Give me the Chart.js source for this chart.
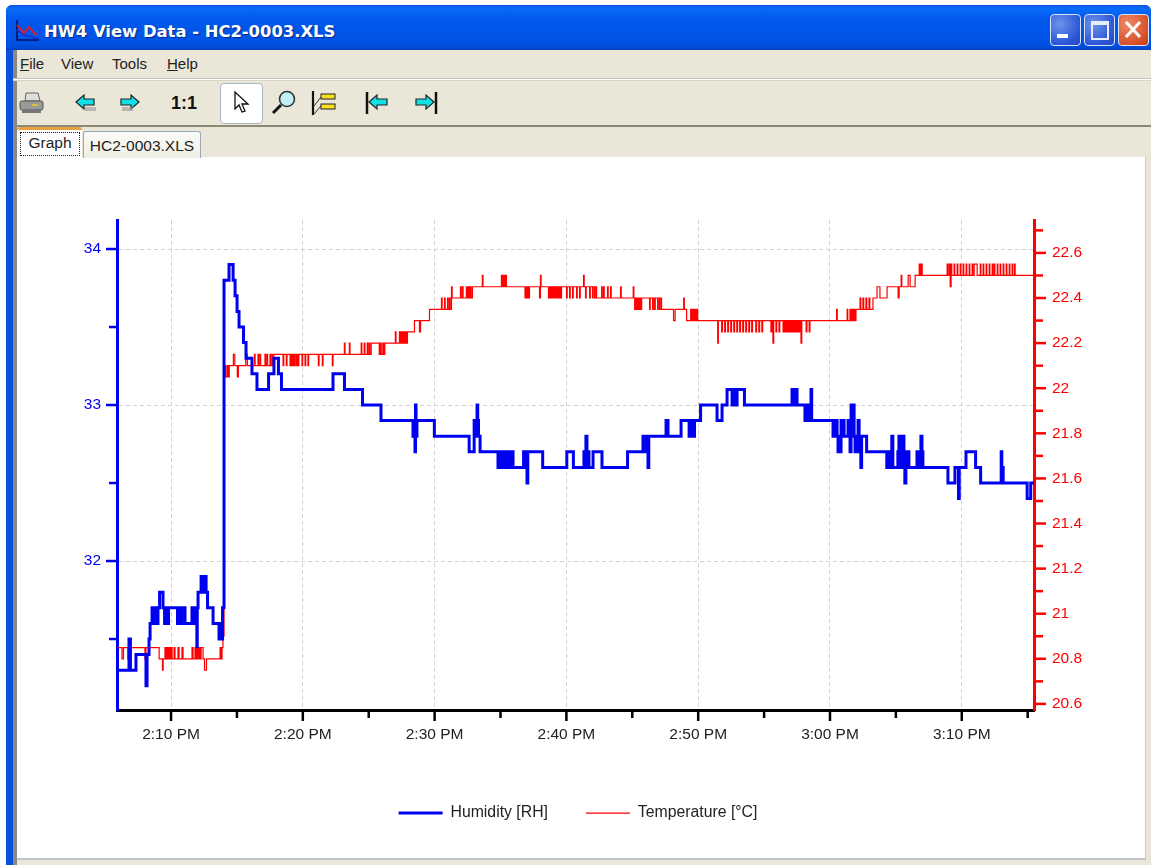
<!DOCTYPE html>
<html>
<head>
<meta charset="utf-8">
<title>HW4 View Data</title>
<script src="https://cdn.jsdelivr.net/npm/chart.js@4"></script>
<style>
  html, body { margin: 0; padding: 0; background: #fff; }
  body { width: 1151px; height: 865px; overflow: hidden; position: relative; font-family: "Liberation Sans", Arial, sans-serif; }
  .abs { position: absolute; }
  #win { left: 6px; top: 5px; width: 1145px; height: 860px; background: #0a50dc; border-radius: 6px 6px 0 0; }
  #titlebar { left: 6px; top: 5px; width: 1145px; height: 45px; border-radius: 6px 6px 0 0;
    background: linear-gradient(#0a55e0 0, #0a6cf8 8%, #0058ec 30%, #0055e8 70%, #0050e0 90%, #0040c0 100%); }
  #title { left: 44px; top: 22px; color: #fff; font: bold 16.4px "DejaVu Sans", sans-serif; text-shadow: 1px 1px 1px #0a2a90; white-space: nowrap; }
  .wbtn { top: 14px; width: 29px; height: 30px; border: 1px solid #d8e4fa; border-radius: 4px; background: radial-gradient(circle at 30% 30%, #6f92ea, #2a55d8 70%, #2448c0); }
  #close { background: radial-gradient(circle at 30% 30%, #ee8a66, #d8502a 70%, #c03c18); }
  #face { left: 13px; top: 50px; width: 1138px; height: 815px; background: #ebe7d8; }
  #edge { left: 13px; top: 50px; width: 4px; height: 815px; background: #8a8a84; }
  #menusep { left: 13px; top: 78px; width: 1138px; height: 3px; background: linear-gradient(#c4c2b4 0, #c4c2b4 33%, #fff 34%, #fff 66%, #d8d5c5 67%); }
  #toolsep { left: 13px; top: 125px; width: 1138px; height: 2px; background: #8b8975; }
  .menu { top: 55px; font-size: 15px; color: #222; }
  .under { text-decoration: underline; }
  #pressed { left: 220px; top: 83px; width: 41px; height: 39px; background: #fff; border: 1.5px solid #a9b6c4; border-radius: 4px; }
  #oneone { left: 171px; top: 93px; font: bold 18px "Liberation Sans", sans-serif; color: #111; }
  #panel { left: 17px; top: 157px; width: 1128px; height: 701px; background: #fff; border-right: 1.5px solid #c5cbd4; border-bottom: 2px solid #bfc4cc; box-sizing: content-box; }
  #tab1 { left: 17px; top: 127px; width: 65px; height: 31px; background: #fff; border-top: 3px solid #eba23c; border-radius: 3px 3px 0 0; box-sizing: border-box; }
  #tab1in { left: 20px; top: 132px; width: 58px; height: 22px; border: 1px dotted #222; font-size: 15.5px; line-height: 20px; text-align: center; color: #222; }
  #tab2 { left: 83px; top: 131px; width: 116px; height: 26px; background: linear-gradient(#fcfcf8, #efeee4); border: 1px solid #9aa9b8; border-bottom: none; border-radius: 3px 3px 0 0; font-size: 15.5px; line-height: 27px; text-align: center; color: #222; white-space: nowrap; }
  #chartbox { left: 17px; top: 158px; width: 1128px; height: 700px; }
  #chart { display: block; }
  svg { position: absolute; overflow: visible; }
</style>
</head>
<body>
<div class="abs" id="win"></div>
<div class="abs" id="titlebar"></div>
<svg style="left:15px;top:20px" width="26" height="22">
  <path d="M2 0V20H24" stroke="#001060" stroke-width="1.6" fill="none"/>
  <path d="M2 5L9 13L14 7L19 13L23 15" stroke="#f01818" stroke-width="1.8" fill="none"/>
  <path d="M2 10L9 15L14 16L20 18L24 18" stroke="#1030d0" stroke-width="1.4" fill="none"/>
</svg>
<div class="abs" id="title">HW4 View Data - HC2-0003.XLS</div>
<div class="abs wbtn" style="left:1050px"></div>
<div class="abs" style="left:1057px;top:34px;width:11px;height:4px;background:#fff"></div>
<div class="abs wbtn" style="left:1084px"></div>
<div class="abs" style="left:1091px;top:21px;width:14px;height:13px;border:2px solid #e8eefc;border-top-width:4px"></div>
<div class="abs wbtn" id="close" style="left:1118px"></div>
<svg style="left:1118px;top:14px" width="30" height="31"><path d="M8 8L22 23M22 8L8 23" stroke="#fff" stroke-width="3"/></svg>

<div class="abs" id="face"></div>
<div class="abs" id="edge"></div>
<div class="abs" id="menusep"></div>
<div class="abs" id="toolsep"></div>
<div class="abs menu" style="left:20px"><span class="under">F</span>ile</div>
<div class="abs menu" style="left:61px">View</div>
<div class="abs menu" style="left:112px">Tools</div>
<div class="abs menu" style="left:167px"><span class="under">H</span>elp</div>

<svg style="left:19px;top:92px" width="26" height="24">
  <path d="M7 1H19L21 9H6Z" fill="#dfe0dc" stroke="#666"/>
  <rect x="1" y="9" width="23" height="9" rx="2" fill="#9a9a96" stroke="#555"/>
  <rect x="3" y="17" width="19" height="4" fill="#777"/>
  <rect x="13" y="12" width="6" height="2" fill="#d8c040"/>
</svg>
<svg style="left:75px;top:94px" width="24" height="20"><path d="M1 8L9 1V5H19V11H9V15Z" fill="#12e0e8" stroke="#222" stroke-width="1.2"/><path d="M10 13H21V17H10Z" fill="#999" opacity="0.6"/></svg>
<svg style="left:119px;top:94px" width="24" height="20"><path d="M20 8L12 1V5H2V11H12V15Z" fill="#12e0e8" stroke="#222" stroke-width="1.2"/><path d="M3 13H14V17H3Z" fill="#999" opacity="0.6"/></svg>
<div class="abs" id="oneone">1:1</div>
<div class="abs" id="pressed"></div>
<svg style="left:233px;top:91px" width="18" height="24"><path d="M2 1V18L6 14L9 21L12 20L9 13L15 13Z" fill="#fff" stroke="#111" stroke-width="1.3"/></svg>
<svg style="left:270px;top:90px" width="28" height="26">
  <circle cx="17" cy="9" r="7.5" fill="#bff0f6" stroke="#333" stroke-width="1.6"/>
  <path d="M11 15L3 23" stroke="#111" stroke-width="3"/>
</svg>
<svg style="left:311px;top:91px" width="28" height="26">
  <path d="M2 0V24" stroke="#111" stroke-width="2.2"/>
  <path d="M3 23L10 15M3 15L10 6" stroke="#333" stroke-width="1"/>
  <rect x="10" y="3" width="14" height="5" fill="#f6e020" stroke="#222"/>
  <rect x="10" y="13" width="14" height="5" fill="#f6e020" stroke="#222"/>
</svg>
<svg style="left:366px;top:92px" width="24" height="24"><path d="M1 0V22" stroke="#111" stroke-width="2.5"/><path d="M3 10L11 3V7H21V13H11V17Z" fill="#12e0e8" stroke="#222" stroke-width="1.2"/></svg>
<svg style="left:413px;top:92px" width="24" height="24"><path d="M23 0V22" stroke="#111" stroke-width="2.5"/><path d="M21 10L13 3V7H3V13H13V17Z" fill="#12e0e8" stroke="#222" stroke-width="1.2"/></svg>

<div class="abs" id="panel"></div>
<div class="abs" id="tab2">HC2-0003.XLS</div>
<div class="abs" id="tab1"></div>
<div class="abs" id="tab1in">Graph</div>
<div class="abs" id="chartbox"><canvas id="chart" width="1128" height="700"></canvas></div>

<script>
// all times are minutes after 2:00 PM, each reading holds until the next one
const xMin = 5.90;
const xMax = 75.48;
const xTicks = [10, 15, 20, 25, 30, 35, 40, 45, 50, 55, 60, 65, 70, 75];
const xTickLabels = ["2:10 PM", "", "2:20 PM", "", "2:30 PM", "", "2:40 PM", "", "2:50 PM", "", "3:00 PM", "", "3:10 PM", ""];

const humidityTicks = [31.5, 32, 32.5, 33, 33.5, 34];
const humidityTickLabels = ["", "32", "", "33", "", "34"];

const temperatureTicks = [20.6, 20.7, 20.8, 20.9, 21, 21.1, 21.2, 21.3, 21.4, 21.5, 21.6, 21.7, 21.8, 21.9, 22, 22.1, 22.2, 22.3, 22.4, 22.5, 22.6, 22.7];
const temperatureTickLabels = ["20.6", "", "20.8", "", "21", "", "21.2", "", "21.4", "", "21.6", "", "21.8", "", "22", "", "22.2", "", "22.4", "", "22.6", ""];

const humidityReadings = [
  [5.90,31.3],[6.81,31.5],[6.92,31.3],[7.34,31.4],[8.10,31.2],[8.18,31.4],[8.33,31.5],[8.41,31.6],[8.56,31.7],[8.63,31.6],
  [8.71,31.7],[8.79,31.6],[8.86,31.7],[8.94,31.6],[9.01,31.7],[9.13,31.8],[9.39,31.7],[9.51,31.6],[9.62,31.7],[9.70,31.6],
  [9.81,31.7],[10.49,31.6],[10.57,31.7],[10.64,31.6],[10.72,31.7],[10.76,31.6],[10.83,31.7],[11.06,31.6],[11.59,31.7],[11.67,31.6],
  [11.74,31.7],[11.82,31.6],[11.90,31.7],[11.96,31.45],[11.99,31.7],[12.05,31.8],[12.28,31.9],[12.35,31.8],[12.43,31.9],[12.50,31.8],
  [12.58,31.9],[12.66,31.8],[12.77,31.7],[13.19,31.6],[13.64,31.5],[13.72,31.6],[13.79,31.5],[13.91,31.7],[14.02,33.8],[14.40,33.9],
  [14.71,33.8],[14.86,33.7],[15.01,33.6],[15.16,33.5],[15.50,33.4],[15.69,33.3],[16.14,33.2],[16.52,33.1],[17.40,33.2],[17.81,33.3],
  [18.15,33.2],[18.38,33.1],[22.29,33.2],[23.16,33.1],[24.53,33.0],[25.93,32.9],[28.36,32.8],[28.40,32.9],[28.43,32.8],[28.51,32.7],
  [28.55,33.0],[28.59,32.8],[28.66,32.9],[29.98,32.8],[32.62,32.7],[33.00,32.9],[33.07,32.8],[33.15,32.9],[33.22,33.0],[33.27,32.9],
  [33.33,32.8],[33.45,32.7],[34.81,32.6],[34.89,32.7],[34.97,32.6],[35.04,32.7],[35.12,32.6],[35.20,32.7],[35.27,32.6],[35.35,32.7],
  [35.42,32.6],[35.58,32.7],[35.65,32.6],[35.73,32.7],[35.80,32.6],[35.88,32.7],[35.95,32.6],[36.75,32.7],[36.86,32.6],[36.94,32.7],
  [37.01,32.5],[37.07,32.7],[38.20,32.6],[40.03,32.7],[40.53,32.6],[41.33,32.7],[41.40,32.6],[41.48,32.8],[41.56,32.6],[41.63,32.7],
  [41.71,32.6],[42.02,32.7],[42.70,32.6],[44.64,32.7],[45.81,32.8],[46.04,32.7],[46.12,32.8],[46.19,32.6],[46.25,32.8],[47.56,32.9],
  [47.71,32.8],[48.70,32.9],[49.31,32.8],[49.38,32.9],[49.46,32.8],[49.53,32.9],[49.61,32.8],[49.72,32.9],[50.18,33.0],[51.43,32.9],
  [51.81,33.0],[52.19,33.1],[52.57,33.0],[52.64,33.1],[52.72,33.0],[52.79,33.1],[52.87,33.0],[52.95,33.1],[53.51,33.0],[57.12,33.1],
  [57.19,33.0],[57.27,33.1],[57.34,33.0],[57.42,33.1],[57.50,33.0],[58.10,32.9],[58.18,33.0],[58.25,32.9],[58.33,33.0],[58.48,32.9],
  [58.56,33.1],[58.61,32.9],[60.23,32.8],[60.31,32.9],[60.38,32.8],[60.46,32.9],[60.54,32.8],[60.61,32.7],[60.84,32.9],[60.92,32.8],
  [60.99,32.9],[61.07,32.8],[61.37,32.9],[61.52,32.7],[61.60,33.0],[61.68,32.9],[61.75,33.0],[61.83,32.8],[61.90,32.7],[61.98,32.8],
  [62.06,32.7],[62.13,32.9],[62.21,32.7],[62.28,32.8],[62.34,32.6],[62.40,32.8],[62.78,32.7],[64.31,32.6],[64.39,32.7],[64.47,32.6],
  [64.54,32.7],[64.62,32.6],[64.69,32.8],[64.77,32.6],[65.15,32.7],[65.23,32.8],[65.30,32.6],[65.38,32.7],[65.45,32.6],[65.53,32.8],
  [65.61,32.7],[65.68,32.5],[65.76,32.7],[65.83,32.6],[65.91,32.7],[65.99,32.6],[66.60,32.7],[66.67,32.6],[66.75,32.7],[66.83,32.6],
  [66.90,32.8],[66.98,32.7],[67.05,32.6],[68.95,32.5],[69.48,32.6],[69.75,32.4],[69.81,32.6],[70.32,32.7],[71.05,32.6],[71.43,32.5],
  [72.99,32.7],[73.04,32.6],[73.14,32.5],[74.96,32.4],[75.23,32.5],[75.48,32.5]
];

const temperatureReadings = [
  [5.98,20.85],[6.28,20.8],[6.39,20.85],[6.73,20.8],[6.81,20.85],[8.02,20.8],[8.10,20.85],[9.10,20.8],[9.35,20.75],[9.40,20.8],
  [9.54,20.85],[9.62,20.8],[9.70,20.85],[9.77,20.8],[9.85,20.85],[9.92,20.8],[10.00,20.85],[10.08,20.8],[10.23,20.85],[10.30,20.8],
  [10.53,20.85],[10.61,20.8],[10.83,20.85],[10.91,20.8],[11.59,20.85],[11.67,20.8],[11.82,20.85],[11.90,20.8],[11.97,20.85],[12.05,20.8],
  [12.13,20.85],[12.20,20.8],[12.28,20.85],[12.43,20.8],[12.54,20.75],[12.69,20.8],[13.72,20.85],[13.79,20.8],[13.87,20.85],[13.94,20.9],
  [14.02,22.05],[14.10,22.1],[14.16,22.05],[14.27,22.1],[14.35,22.05],[14.42,22.1],[14.73,22.15],[14.84,22.1],[15.03,22.05],[15.11,22.1],
  [15.67,22.15],[15.79,22.1],[16.33,22.15],[16.38,22.1],[16.60,22.15],[16.65,22.1],[16.75,22.15],[16.80,22.1],[17.13,22.15],[17.18,22.1],
  [17.28,22.15],[17.33,22.1],[17.51,22.15],[17.56,22.1],[17.66,22.15],[17.71,22.1],[17.81,22.15],[18.50,22.1],[18.55,22.15],[18.75,22.1],
  [18.80,22.15],[19.03,22.1],[19.09,22.15],[19.18,22.1],[19.24,22.15],[19.33,22.1],[19.39,22.15],[19.49,22.1],[19.55,22.15],[19.64,22.1],
  [19.70,22.15],[19.94,22.1],[19.99,22.15],[20.17,22.1],[20.22,22.15],[20.39,22.1],[20.44,22.15],[21.18,22.1],[21.23,22.15],[21.48,22.1],
  [21.53,22.15],[22.24,22.1],[22.29,22.15],[23.15,22.2],[23.20,22.15],[23.53,22.2],[23.58,22.15],[24.43,22.2],[24.48,22.15],[24.66,22.2],
  [24.71,22.15],[24.89,22.2],[24.94,22.15],[25.04,22.2],[25.09,22.15],[25.19,22.2],[25.80,22.15],[25.88,22.2],[25.95,22.15],[26.07,22.2],
  [26.14,22.15],[26.22,22.2],[27.02,22.25],[27.07,22.2],[27.33,22.25],[27.41,22.2],[27.48,22.25],[27.56,22.2],[27.63,22.25],[27.71,22.2],
  [27.79,22.25],[27.86,22.2],[27.94,22.25],[28.47,22.3],[28.85,22.25],[28.93,22.3],[29.61,22.35],[30.52,22.4],[30.57,22.35],[30.75,22.4],
  [30.80,22.35],[30.98,22.4],[31.03,22.35],[31.13,22.4],[31.18,22.35],[31.28,22.45],[31.33,22.4],[31.96,22.45],[32.01,22.4],[32.11,22.45],
  [32.16,22.4],[32.41,22.45],[32.47,22.4],[32.56,22.45],[32.62,22.4],[32.71,22.45],[32.77,22.4],[32.87,22.45],[33.62,22.5],[33.67,22.45],
  [35.07,22.5],[35.15,22.45],[35.22,22.5],[35.30,22.45],[35.37,22.5],[35.45,22.45],[36.86,22.4],[36.90,22.45],[36.97,22.4],[37.05,22.45],
  [37.13,22.4],[37.20,22.45],[37.96,22.4],[38.03,22.5],[38.08,22.45],[38.64,22.4],[38.72,22.45],[38.79,22.4],[38.87,22.45],[38.95,22.4],
  [39.02,22.45],[39.10,22.4],[39.17,22.45],[39.25,22.4],[39.32,22.45],[39.40,22.4],[39.47,22.45],[39.55,22.4],[39.63,22.45],[40.01,22.4],
  [40.06,22.45],[40.24,22.4],[40.29,22.45],[40.47,22.4],[40.52,22.45],[40.77,22.4],[40.82,22.45],[41.00,22.4],[41.05,22.45],[41.30,22.5],
  [41.35,22.45],[41.45,22.4],[41.50,22.45],[41.76,22.4],[41.81,22.45],[41.98,22.4],[42.03,22.45],[42.14,22.4],[42.19,22.45],[42.29,22.4],
  [42.67,22.45],[42.72,22.4],[42.82,22.45],[42.87,22.4],[43.12,22.45],[43.17,22.4],[43.35,22.45],[43.40,22.4],[44.11,22.45],[44.16,22.4],
  [45.07,22.45],[45.12,22.4],[45.18,22.35],[45.26,22.4],[45.33,22.35],[45.41,22.4],[45.48,22.35],[45.56,22.4],[45.63,22.35],[45.71,22.4],
  [46.31,22.35],[46.36,22.4],[46.54,22.35],[46.59,22.4],[46.69,22.35],[46.74,22.4],[46.92,22.35],[46.97,22.4],[47.07,22.35],[47.12,22.4],
  [47.22,22.35],[48.13,22.3],[48.25,22.35],[48.90,22.4],[48.95,22.35],[49.12,22.3],[49.43,22.35],[49.50,22.3],[49.58,22.35],[49.65,22.3],
  [49.73,22.35],[49.81,22.3],[49.88,22.35],[49.96,22.3],[51.48,22.2],[51.53,22.3],[51.78,22.25],[51.84,22.3],[52.01,22.25],[52.07,22.3],
  [52.24,22.25],[52.30,22.3],[52.47,22.25],[52.53,22.3],[52.70,22.25],[52.76,22.3],[52.93,22.25],[52.99,22.3],[53.15,22.25],[53.21,22.3],
  [53.38,22.25],[53.44,22.3],[53.61,22.25],[53.67,22.3],[53.84,22.25],[53.90,22.3],[54.06,22.25],[54.12,22.3],[54.37,22.25],[54.43,22.3],
  [54.60,22.25],[54.66,22.3],[54.83,22.25],[54.89,22.3],[55.52,22.25],[55.58,22.3],[55.67,22.2],[55.73,22.3],[55.90,22.25],[55.96,22.3],
  [56.13,22.25],[56.19,22.3],[56.44,22.25],[56.51,22.3],[56.59,22.25],[56.67,22.3],[56.74,22.25],[56.82,22.3],[56.89,22.25],[56.97,22.3],
  [57.04,22.25],[57.12,22.3],[57.20,22.25],[57.27,22.3],[57.35,22.25],[57.42,22.3],[57.50,22.25],[57.58,22.3],[57.65,22.25],[57.73,22.3],
  [57.80,22.2],[57.86,22.3],[58.19,22.25],[58.25,22.3],[58.42,22.25],[58.48,22.3],[60.50,22.35],[60.55,22.3],[61.30,22.35],[61.35,22.3],
  [61.52,22.35],[61.60,22.3],[61.67,22.35],[61.75,22.3],[61.82,22.35],[61.90,22.3],[61.97,22.35],[62.28,22.4],[62.34,22.35],[62.50,22.4],
  [62.56,22.35],[62.73,22.4],[62.79,22.35],[62.96,22.4],[63.02,22.35],[63.26,22.4],[63.57,22.45],[63.79,22.4],[64.33,22.45],[65.17,22.4],
  [65.25,22.45],[65.40,22.5],[65.45,22.45],[65.93,22.5],[66.08,22.45],[66.46,22.5],[66.77,22.55],[66.85,22.5],[66.92,22.55],[67.00,22.5],
  [68.89,22.55],[68.94,22.5],[69.04,22.55],[69.12,22.45],[69.19,22.55],[69.24,22.5],[69.42,22.55],[69.47,22.5],[69.65,22.55],[69.70,22.5],
  [69.88,22.55],[69.93,22.5],[70.10,22.55],[70.15,22.5],[70.33,22.55],[70.38,22.5],[70.56,22.55],[70.61,22.5],[70.79,22.55],[70.84,22.5],
  [70.94,22.55],[71.17,22.5],[71.40,22.55],[71.45,22.5],[71.62,22.55],[71.67,22.5],[71.85,22.55],[71.90,22.5],[72.08,22.55],[72.13,22.5],
  [72.31,22.55],[72.36,22.5],[72.46,22.55],[72.51,22.5],[72.69,22.55],[72.74,22.5],[72.91,22.55],[72.96,22.5],[73.14,22.55],[73.19,22.5],
  [73.37,22.55],[73.42,22.5],[73.60,22.55],[73.65,22.5],[73.82,22.55],[73.87,22.5],[74.00,22.55],[74.05,22.5],[75.48,22.5]
];

const toPoints = rows => rows.map(r => ({ x: r[0], y: r[1] }));

function setTicks(values, labels) {
  return scale => {
    scale.ticks = values.map((v, i) => ({ value: v, label: labels[i], major: labels[i] !== "" }));
  };
}

function gridOnLabelled(ctx) {
  return ctx.tick && ctx.tick.major ? "#d2d2d2" : "rgba(0,0,0,0)";
}

// chart.js has one tick length per axis, these axes have short and long ticks
const axisTicks = {
  id: "axisTicks",
  afterDraw(chart) {
    const c = chart.ctx;
    const area = chart.chartArea;
    c.save();
    c.lineWidth = 2.5;
    c.strokeStyle = "#0000f0";
    chart.scales.y.ticks.forEach(t => {
      const y = chart.scales.y.getPixelForValue(t.value);
      c.beginPath(); c.moveTo(area.left, y); c.lineTo(area.left - (t.major ? 11 : 8), y); c.stroke();
    });
    c.strokeStyle = "#ff0000";
    chart.scales.y2.ticks.forEach(t => {
      const y = chart.scales.y2.getPixelForValue(t.value);
      c.beginPath(); c.moveTo(area.right, y); c.lineTo(area.right + (t.major ? 12 : 9), y); c.stroke();
    });
    c.strokeStyle = "#000";
    chart.scales.x.ticks.forEach(t => {
      const x = chart.scales.x.getPixelForValue(t.value);
      c.beginPath(); c.moveTo(x, area.bottom); c.lineTo(x, area.bottom + (t.major ? 11 : 8)); c.stroke();
    });
    c.restore();
  }
};

const font = { family: "'Liberation Sans', Arial, sans-serif", size: 15.5 };
const legendFont = { family: "'Liberation Sans', Arial, sans-serif", size: 15.8 };

new Chart(document.getElementById("chart"), {
  type: "line",
  data: {
    datasets: [
      { label: "Humidity [RH]", data: toPoints(humidityReadings), yAxisID: "y", borderColor: "#0000f0", borderWidth: 3, stepped: true, pointRadius: 0 },
      { label: "Temperature [°C]", data: toPoints(temperatureReadings), yAxisID: "y2", borderColor: "#ff0000", borderWidth: 1.2, stepped: true, pointRadius: 0 }
    ]
  },
  options: {
    responsive: false,
    animation: false,
    layout: { padding: { top: 62, right: 6, bottom: 27 } },
    plugins: {
      tooltip: { enabled: false },
      legend: {
        position: "bottom",
        labels: { usePointStyle: true, pointStyle: "line", pointStyleWidth: 44, color: "#222", font: legendFont, padding: 38 }
      }
    },
    scales: {
      x: {
        type: "linear", min: xMin, max: xMax,
        afterBuildTicks: setTicks(xTicks, xTickLabels),
        afterFit: s => { s.height = 57.2; },
        border: { color: "#000", width: 3, dash: [4, 3] },
        grid: { color: gridOnLabelled, drawTicks: false, lineWidth: 1 },
        ticks: { padding: 15, color: "#222", font: font, autoSkip: false, maxRotation: 0, callback: (v, i) => xTickLabels[i] }
      },
      y: {
        position: "left", min: 31.045, max: 34.186,
        afterBuildTicks: setTicks(humidityTicks, humidityTickLabels),
        afterFit: s => { s.width = 100; },
        border: { color: "#0000f0", width: 3, dash: [4, 3] },
        grid: { color: gridOnLabelled, drawTicks: false, lineWidth: 1 },
        ticks: { padding: 16, color: "#0000f0", font: font, autoSkip: false, callback: (v, i) => humidityTickLabels[i] }
      },
      y2: {
        position: "right", min: 20.573, max: 22.746,
        afterBuildTicks: setTicks(temperatureTicks, temperatureTickLabels),
        afterFit: s => { s.width = 105; },
        border: { color: "#ff0000", width: 3 },
        grid: { display: true, drawOnChartArea: false, drawTicks: false },
        ticks: { padding: 18, color: "#ff0000", font: font, autoSkip: false, callback: (v, i) => temperatureTickLabels[i] }
      }
    }
  },
  plugins: [axisTicks]
});
</script>
</body>
</html>
